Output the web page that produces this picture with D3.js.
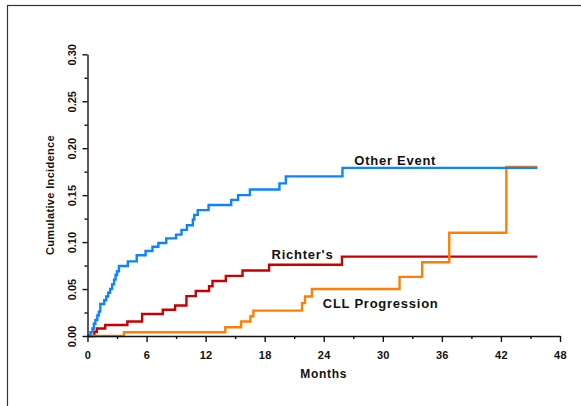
<!DOCTYPE html>
<html>
  <head>
    <meta charset="utf-8">
    <style>
      body { margin: 0; background: white; }
      text { font-family: Arial, "Liberation Sans", sans-serif; font-weight: bold; fill: #111; }
    </style>
    <script src="https://d3js.org/d3.v7.min.js"></script>
  </head>
  <body>
    <script>
    var width = 581;
    var height = 406;

    // cumulative incidence step curves (months, incidence)
    var otherT = [0, 0.3, 0.5, 0.65, 0.8, 1.0, 1.15, 1.3, 1.7, 1.9, 2.1, 2.3, 2.5, 2.7, 2.85, 3.0, 3.2, 4.1, 5.0, 5.9, 6.6, 7.2, 8.0, 9.0, 9.55, 10.1, 10.7, 10.85, 11.2, 12.3, 14.6, 15.3, 16.5, 19.5, 20.15, 25.9, 45.7];
    var otherV = [0, 0.004, 0.008, 0.013, 0.017, 0.022, 0.026, 0.034, 0.038, 0.042, 0.046, 0.050, 0.055, 0.060, 0.065, 0.069, 0.0745, 0.0795, 0.086, 0.0905, 0.095, 0.099, 0.104, 0.108, 0.113, 0.118, 0.124, 0.129, 0.134, 0.1395, 0.145, 0.150, 0.156, 0.1625, 0.170, 0.179, 0.179];

    var richterT = [0, 0.7, 0.95, 1.8, 4.05, 5.55, 7.65, 8.9, 10.05, 11.0, 12.35, 12.7, 14.05, 15.75, 18.45, 25.85, 45.7];
    var richterV = [0, 0.0045, 0.008, 0.0117, 0.0155, 0.0235, 0.028, 0.0325, 0.0425, 0.048, 0.053, 0.0586, 0.064, 0.0697, 0.0758, 0.0845, 0.0845];

    var cllT = [0, 3.7, 14.0, 15.6, 16.55, 16.85, 21.8, 22.1, 22.8, 31.7, 34.0, 36.75, 42.55, 45.7];
    var cllV = [0, 0.004, 0.0093, 0.0155, 0.021, 0.027, 0.035, 0.042, 0.050, 0.063, 0.0785, 0.110, 0.180, 0.180];

    var xTicks = [0, 6, 12, 18, 24, 30, 36, 42, 48];
    var xMinor = [3, 9, 15, 21, 27, 33, 39, 45];
    var yTicks = [0, 0.05, 0.10, 0.15, 0.20, 0.25, 0.30];
    var yMinor = [0.025, 0.075, 0.125, 0.175, 0.225, 0.275];

    var series = [
      {name: "Richter's", t: richterT, v: richterV, color: "#c80000", lx: 18.7, ly: 0.0820},
      {name: "CLL Progression", t: cllT, v: cllV, color: "#ff8000", lx: 23.9, ly: 0.0295},
      {name: "Other Event", t: otherT, v: otherV, color: "#0a84ff", lx: 27.1, ly: 0.1825}
    ];

    var x = d3.scaleLinear().domain([0, 48]).range([87.5, 560]);
    var y = d3.scaleLinear().domain([0, 0.30]).range([336, 54.3]);

    var svg = d3.select("body").append("svg")
      .attr("width", width)
      .attr("height", height);

    // outer frame
    svg.append("rect")
      .attr("x", 7.5).attr("y", 5.5)
      .attr("width", 620).attr("height", 450)
      .attr("fill", "none")
      .attr("stroke", "#333")
      .attr("stroke-width", 1.2);

    var line = d3.line()
      .x(function(d) { return x(d[0]); })
      .y(function(d) { return y(d[1]); })
      .curve(d3.curveStepAfter);

    svg.append("g").selectAll("path")
      .data(series)
      .enter().append("path")
      .attr("d", function(s) { return line(d3.zip(s.t, s.v)); })
      .attr("fill", "none")
      .attr("stroke", function(s) { return s.color; })
      .attr("stroke-width", 2.4);

    // x axis
    var xg = svg.append("g")
      .attr("transform", "translate(0,336)")
      .call(d3.axisBottom(x).tickValues(xTicks).tickSize(6).tickSizeOuter(0));
    xg.selectAll("text")
      .attr("y", 22.5).attr("dy", 0)
      .style("font-size", "11px")
      .style("letter-spacing", "0.3px");
    svg.append("g")
      .attr("transform", "translate(0,336)")
      .call(d3.axisBottom(x).tickValues(xMinor).tickSize(3).tickFormat(""))
      .select(".domain").remove();

    // y axis
    var yg = svg.append("g")
      .attr("transform", "translate(87.5,0)")
      .call(d3.axisLeft(y).tickValues(yTicks).tickSize(5).tickSizeOuter(0).tickFormat(d3.format(".2f")));
    yg.selectAll("text")
      .attr("transform", "rotate(-90)")
      .attr("x", 0).attr("y", -11.5).attr("dy", 0)
      .attr("text-anchor", "middle")
      .style("font-size", "11px");
    svg.append("g")
      .attr("transform", "translate(87.5,0)")
      .call(d3.axisLeft(y).tickValues(yMinor).tickSize(3).tickFormat(""))
      .select(".domain").remove();

    svg.selectAll(".domain, .tick line")
      .attr("stroke", "#111")
      .attr("stroke-width", 1.4);

    // axis titles
    svg.append("text")
      .attr("x", 323.7).attr("y", 378)
      .attr("text-anchor", "middle")
      .style("font-size", "12px")
      .style("letter-spacing", "0.7px")
      .text("Months");

    svg.append("text")
      .attr("transform", "translate(53.7,195) rotate(-90)")
      .attr("text-anchor", "middle")
      .style("font-size", "11px")
      .style("letter-spacing", "0.35px")
      .text("Cumulative Incidence");

    // curve labels
    svg.append("g").selectAll("text")
      .data(series)
      .enter().append("text")
      .attr("x", function(s) { return x(s.lx); })
      .attr("y", function(s) { return y(s.ly); })
      .style("font-size", "13px")
      .style("letter-spacing", "0.75px")
      .text(function(s) { return s.name; });
    </script>
  </body>
</html>
